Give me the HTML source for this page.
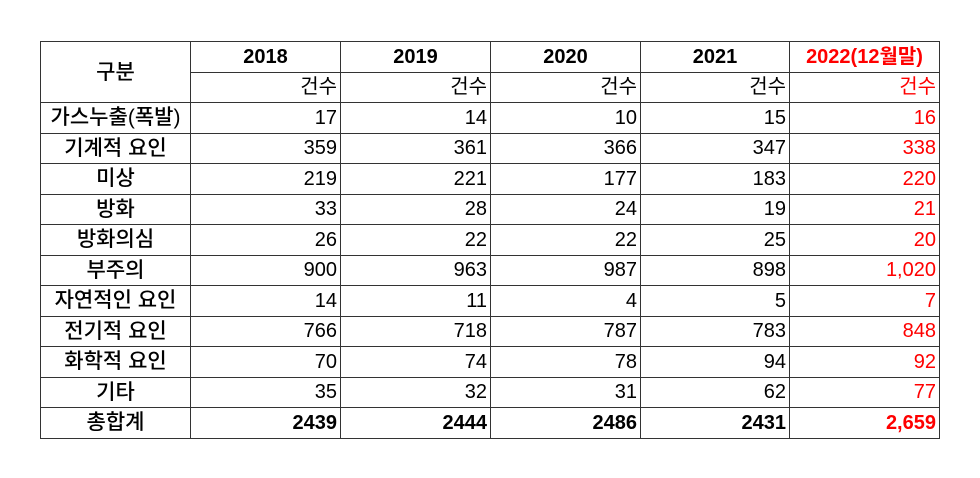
<!DOCTYPE html>
<html><head><meta charset="utf-8"><style>
body{margin:0;width:980px;height:478px;background:#fff;position:relative;font-family:"Liberation Sans","Noto Sans CJK KR",sans-serif;}
table{position:absolute;left:40px;top:41px;border-collapse:collapse;table-layout:fixed;}
td{border:1.3px solid #333;height:30.5px;padding:0 3px 0 0;font-size:20px;text-align:right;color:#000;line-height:1;box-sizing:border-box;white-space:nowrap;}
td.l{text-align:center;padding:0;font-weight:500;font-size:21px;}
td.y{text-align:center;font-weight:bold;padding:0;}
.r{color:#f00;}
.b{font-weight:bold;}
</style></head><body>
<table>
<colgroup><col style="width:150px"><col style="width:150px"><col style="width:150px"><col style="width:150px"><col style="width:149px"><col style="width:150px"></colgroup>
<tr><td class="l" rowspan="2">구분</td><td class="y">2018</td><td class="y">2019</td><td class="y">2020</td><td class="y">2021</td><td class="y r">2022(12월말)</td></tr>
<tr><td>건수</td><td>건수</td><td>건수</td><td>건수</td><td class="r">건수</td></tr>
<tr><td class="l">가스누출(폭발)</td><td>17</td><td>14</td><td>10</td><td>15</td><td class="r">16</td></tr>
<tr><td class="l">기계적 요인</td><td>359</td><td>361</td><td>366</td><td>347</td><td class="r">338</td></tr>
<tr><td class="l">미상</td><td>219</td><td>221</td><td>177</td><td>183</td><td class="r">220</td></tr>
<tr><td class="l">방화</td><td>33</td><td>28</td><td>24</td><td>19</td><td class="r">21</td></tr>
<tr><td class="l">방화의심</td><td>26</td><td>22</td><td>22</td><td>25</td><td class="r">20</td></tr>
<tr><td class="l">부주의</td><td>900</td><td>963</td><td>987</td><td>898</td><td class="r">1,020</td></tr>
<tr><td class="l">자연적인 요인</td><td>14</td><td>11</td><td>4</td><td>5</td><td class="r">7</td></tr>
<tr><td class="l">전기적 요인</td><td>766</td><td>718</td><td>787</td><td>783</td><td class="r">848</td></tr>
<tr><td class="l">화학적 요인</td><td>70</td><td>74</td><td>78</td><td>94</td><td class="r">92</td></tr>
<tr><td class="l">기타</td><td>35</td><td>32</td><td>31</td><td>62</td><td class="r">77</td></tr>
<tr><td class="l">총합계</td><td class="b">2439</td><td class="b">2444</td><td class="b">2486</td><td class="b">2431</td><td class="b r">2,659</td></tr>
</table>
</body></html>
